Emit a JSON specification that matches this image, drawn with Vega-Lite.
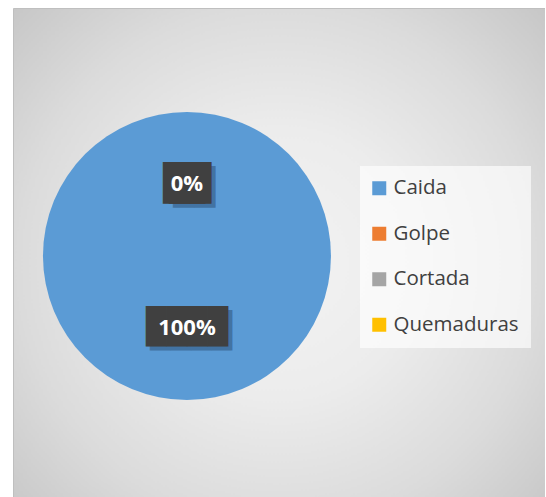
{
  "$schema": "https://vega.github.io/schema/vega-lite/v6.json",
  "width": 532,
  "height": 489,
  "padding": {"left": 13, "top": 8, "right": 0, "bottom": 0},
  "autosize": {"type": "none"},
  "background": "white",
  "view": {
    "fill": {
      "gradient": "radial",
      "x1": 0.5, "y1": 0.52, "r1": 0,
      "x2": 0.5, "y2": 0.52, "r2": 0.72,
      "stops": [
        {"offset": 0, "color": "#f3f3f3"},
        {"offset": 0.35, "color": "#ececec"},
        {"offset": 0.68, "color": "#dbdbdb"},
        {"offset": 1, "color": "#c4c4c4"}
      ]
    },
    "stroke": "#bfbfbf",
    "strokeWidth": 1
  },
  "data": {
    "values": [
      {"tipo": "Caida", "porcentaje": 1},
      {"tipo": "Golpe", "porcentaje": 0},
      {"tipo": "Cortada", "porcentaje": 0},
      {"tipo": "Quemaduras", "porcentaje": 0}
    ]
  },
  "encoding": {
    "theta": {"field": "porcentaje", "type": "quantitative", "stack": true},
    "x": {"datum": "pie", "type": "nominal", "scale": {"type": "point", "domain": ["pie"], "padding": 0, "align": 0.327}, "axis": null},
    "y": {"datum": "pie", "type": "nominal", "scale": {"type": "point", "domain": ["pie"], "padding": 0, "align": 0.507}, "axis": null}
  },
  "layer": [
    {
      "mark": {"type": "arc", "radius": 144, "stroke": null},
      "encoding": {
        "color": {
          "field": "tipo",
          "type": "nominal",
          "sort": ["Caida", "Golpe", "Cortada", "Quemaduras"],
          "scale": {"domain": ["Caida", "Golpe", "Cortada", "Quemaduras"], "range": ["#5b9bd5", "#ed7d31", "#a5a5a5", "#ffc000"]},
          "legend": {
            "title": null,
            "orient": "none",
            "legendX": 347,
            "legendY": 158,
            "symbolType": "square",
            "symbolSize": 196,
            "symbolStrokeWidth": 0,
            "symbolOffset": -3,
            "labelFont": "Open Sans",
            "labelFontSize": 20.5,
            "labelColor": "#404040",
            "labelOffset": 4,
            "rowPadding": 24.5,
            "padding": 12,
            "fillColor": "rgba(255,255,255,0.65)",
            "strokeColor": null
          }
        },
        "order": {"field": "porcentaje", "sort": "descending"}
      }
    },
    {
      "transform": [{"filter": "datum.tipo == 'Caida'"}],
      "mark": {"type": "text", "radius": 72, "font": "DejaVu Sans Mono", "fontSize": 34, "color": "#1e3a5a", "opacity": 0.4, "dx": 4, "dy": 4, "baseline": "middle", "align": "center"},
      "encoding": {"text": {"value": "████"}}
    },
    {
      "transform": [{"filter": "datum.tipo == 'Golpe'"}],
      "mark": {"type": "text", "radius": 72, "font": "DejaVu Sans Mono", "fontSize": 35, "color": "#1e3a5a", "opacity": 0.4, "dx": 7, "dy": 4, "baseline": "middle", "align": "center"},
      "encoding": {"text": {"value": "██"}}
    },
    {
      "transform": [{"filter": "datum.tipo == 'Caida'"}],
      "mark": {"type": "text", "radius": 72, "font": "DejaVu Sans Mono", "fontSize": 34, "color": "#404040", "baseline": "middle", "align": "center"},
      "encoding": {"text": {"value": "████"}}
    },
    {
      "transform": [{"filter": "datum.tipo == 'Golpe'"}],
      "mark": {"type": "text", "radius": 72, "font": "DejaVu Sans Mono", "fontSize": 35, "color": "#404040", "dx": -3, "baseline": "middle", "align": "center"},
      "encoding": {"text": {"value": "██"}}
    },
    {
      "transform": [{"filter": "datum.tipo == 'Golpe'"}],
      "mark": {"type": "text", "radius": 72, "font": "DejaVu Sans Mono", "fontSize": 35, "color": "#404040", "dx": 3, "baseline": "middle", "align": "center"},
      "encoding": {"text": {"value": "██"}}
    },
    {
      "transform": [{"filter": "datum.tipo == 'Caida' || datum.tipo == 'Golpe'"}],
      "mark": {"type": "text", "radius": 72, "font": "Open Sans", "fontWeight": "bold", "fontSize": 22, "color": "#ffffff", "baseline": "middle", "align": "center"},
      "encoding": {
        "text": {"field": "porcentaje", "type": "quantitative", "format": ".0%"}
      }
    }
  ]
}
